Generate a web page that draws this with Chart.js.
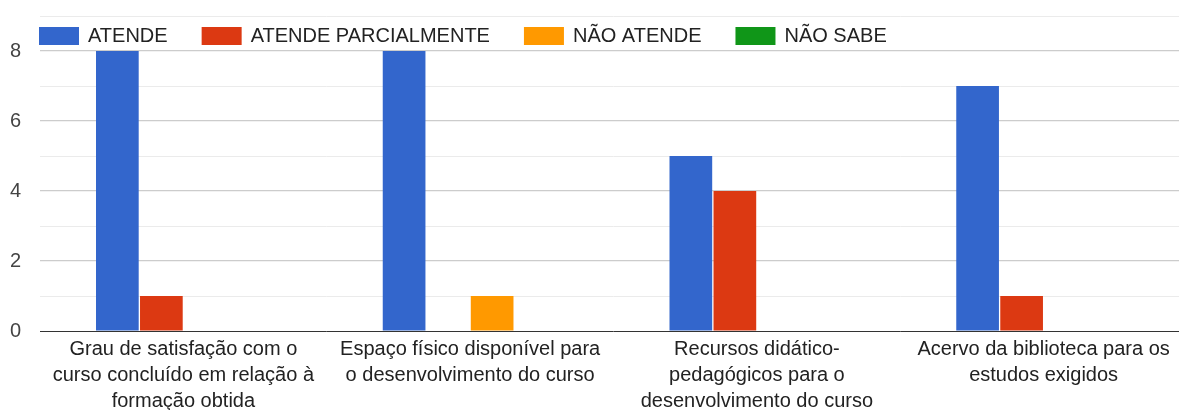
<!DOCTYPE html>
<html lang="pt-BR">
<head>
<meta charset="UTF-8">
<title>Avaliação do curso</title>
<script src="https://cdn.jsdelivr.net/npm/chart.js@4"></script>
<style>
  html, body { margin: 0; padding: 0; background: #fff; overflow: hidden; }
  .frame { width: 1179px; height: 410px; overflow: hidden; }
  .chart-box { position: relative; width: 1187px; height: 410px; }
</style>
</head>
<body>
<div class="frame"><div class="chart-box"><canvas id="evalChart"></canvas></div></div>
<script>
  // categories (already wrapped into lines) and answer counts per option
  const categories = [
    ['Grau de satisfação com o', 'curso concluído em relação à', 'formação obtida'],
    ['Espaço físico disponível para', 'o desenvolvimento do curso'],
    ['Recursos didático-', 'pedagógicos para o', 'desenvolvimento do curso'],
    ['Acervo da biblioteca para os', 'estudos exigidos']
  ];
  const seriesNames = ['ATENDE', 'ATENDE PARCIALMENTE', 'NÃO ATENDE', 'NÃO SABE'];
  const atende = [8, 8, 5, 7];
  const atendeParcial = [1, 0, 4, 1];
  const naoAtende = [0, 1, 0, 0];
  const naoSabe = [0, 0, 0, 0];
  const yTicks = [0, 2, 4, 6, 8];
  const colors = ['#3366cc', '#dc3912', '#ff9900', '#109618'];

  const FONT = '"Liberation Sans", Arial, sans-serif';
  const FONT_SIZE = 20;

  // legend drawn inside the plot, left aligned, like the Google chart style
  const insideLegend = {
    id: 'insideLegend',
    afterDatasetsDraw(chart) {
      const { ctx, chartArea } = chart;
      ctx.save();
      ctx.font = FONT_SIZE + 'px ' + FONT;
      ctx.textBaseline = 'middle';
      let x = chartArea.left - 1;
      const yMid = 36;
      chart.data.datasets.forEach(ds => {
        ctx.fillStyle = ds.backgroundColor;
        ctx.fillRect(x, yMid - 9, 40, 18);
        x += 49;
        ctx.fillStyle = '#222';
        ctx.fillText(ds.label, x, yMid);
        x += ctx.measureText(ds.label).width + 34;
      });
      ctx.restore();
    }
  };

  const values = [atende, atendeParcial, naoAtende, naoSabe];

  new Chart(document.getElementById('evalChart'), {
    type: 'bar',
    data: {
      labels: categories,
      datasets: seriesNames.map((name, i) => ({
        label: name,
        data: values[i],
        backgroundColor: colors[i],
        borderWidth: 0,
        barPercentage: 0.97,
        categoryPercentage: 0.614
      }))
    },
    options: {
      responsive: true,
      maintainAspectRatio: false,
      animation: false,
      layout: { padding: 0 },
      plugins: {
        legend: { display: false },
        tooltip: { enabled: false }
      },
      scales: {
        x: {
          grid: { display: false },
          border: { display: false },
          ticks: {
            color: '#222',
            font: { family: FONT, size: FONT_SIZE, lineHeight: 1.3 },
            padding: -3,
            maxRotation: 0,
            autoSkip: false
          },
          afterFit(scale) {
            scale.height = 79;
            scale.paddingLeft = 0;
            scale.paddingRight = 0;
          }
        },
        y: {
          min: 0,
          max: 9,
          border: { display: false },
          grid: {
            drawTicks: false,
            color: c => c.tick.value === 0 ? '#333333'
              : (yTicks.includes(c.tick.value) ? '#cccccc' : '#ebebeb'),
            lineWidth: c => yTicks.includes(c.tick.value) && c.tick.value !== 0 ? 1.3 : 1
          },
          ticks: {
            stepSize: 1,
            color: '#444',
            padding: 19,
            font: { family: FONT, size: FONT_SIZE },
            callback: v => yTicks.includes(v) ? v : ''
          },
          afterFit(scale) {
            scale.width = 40;
            scale.paddingTop = 16;
            scale.paddingBottom = 0;
          }
        }
      }
    },
    plugins: [insideLegend]
  });
</script>
</body>
</html>
